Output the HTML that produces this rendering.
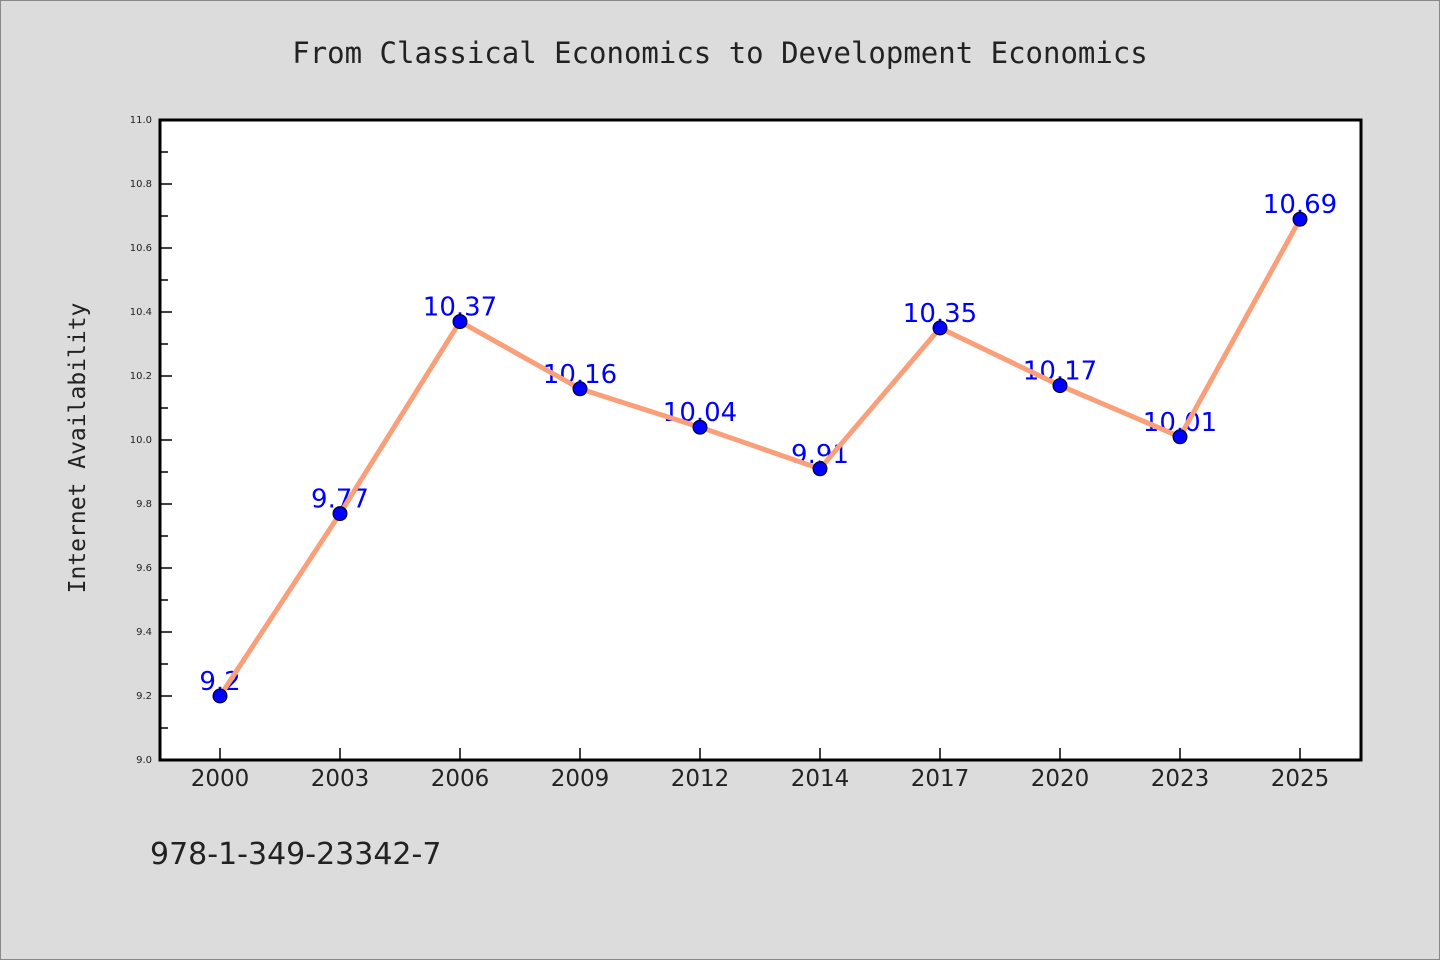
<!DOCTYPE html>
<html><head><meta charset="utf-8"><style>
body{margin:0;background:#dcdcdc;}
svg{display:block;}
</style></head><body>
<svg id="chart" width="1440" height="960" xmlns="http://www.w3.org/2000/svg">
<rect x="0.5" y="0.5" width="1439" height="959" fill="#dcdcdc" stroke="#888"/>
<text x="720" y="63" text-anchor="middle" font-family="DejaVu Sans Mono, Liberation Mono, monospace" font-size="29" fill="#222">From Classical Economics to Development Economics</text>
<rect x="160" y="120" width="1201" height="640" fill="#fff"/>
<g id="ticks"></g>
<g id="labels"></g>
<g id="series"></g>
<rect x="160" y="120" width="1201" height="640" fill="none" stroke="#000" stroke-width="3"/>
<text transform="translate(85,448) rotate(-90)" text-anchor="middle" font-family="DejaVu Sans Mono, Liberation Mono, monospace" font-size="23" fill="#222">Internet Availability</text>
<text x="150" y="864" font-family="DejaVu Sans, Liberation Sans, sans-serif" font-size="30" fill="#222">978-1-349-23342-7</text>
</svg>
<script>
const categories = ["2000","2003","2006","2009","2012","2014","2017","2020","2023","2025"];
const values = [9.2, 9.77, 10.37, 10.16, 10.04, 9.91, 10.35, 10.17, 10.01, 10.69];
const valueLabels = ["9.2","9.77","10.37","10.16","10.04","9.91","10.35","10.17","10.01","10.69"];
const yTicks = ["9.0","9.2","9.4","9.6","9.8","10.0","10.2","10.4","10.6","10.8","11.0"];
const NS="http://www.w3.org/2000/svg";
const L=160,R=1361,T=120,B=760,yMin=9,yMax=11;
const xs=i=>220+i*(1300-220)/(categories.length-1);
const ys=v=>B-(v-yMin)/(yMax-yMin)*(B-T);
function mk(tag,attrs,parent){const e=document.createElementNS(NS,tag);for(const k in attrs)e.setAttribute(k,attrs[k]);parent.appendChild(e);return e;}
const tg=document.getElementById('ticks'),lg=document.getElementById('labels'),sg=document.getElementById('series');
yTicks.forEach((t,i)=>{const v=parseFloat(t),y=ys(v);
 const ln=mk('line',{x1:L,x2:L+12,y1:y,y2:y,stroke:'#000','stroke-width':1.5},tg);
 
 
 const tx=mk('text',{x:L-8,y:y+3,'text-anchor':'end','font-family':'DejaVu Sans, sans-serif','font-size':10,fill:'#222'},tg);
 tx.textContent=t;
 
 
 if(i<yTicks.length-1){const ym=ys(v+0.1);
  const mn=mk('line',{x1:L,x2:L+8,y1:ym,y2:ym,stroke:'#000','stroke-width':1.5},tg);
  
  }
});
categories.forEach((c,i)=>{const x=xs(i);
 const ln=mk('line',{x1:x,x2:x,y1:B,y2:B-12,stroke:'#000','stroke-width':1.5},tg);
 
 
 const tx=mk('text',{x:x,y:B+26,'text-anchor':'middle','font-family':'DejaVu Sans, sans-serif','font-size':23,fill:'#222'},tg);
 tx.textContent=c;
 
 
 const vl=mk('text',{x:x,y:ys(values[i])-6,'text-anchor':'middle','font-family':'DejaVu Sans, sans-serif','font-size':26,fill:'#0000ff'},lg);
 vl.textContent=valueLabels[i];
 
 
});
const pts=values.map((v,i)=>xs(i)+','+ys(v)).join(' ');
const pl=mk('polyline',{points:pts,fill:'none',stroke:'#f9a07a','stroke-width':5,'stroke-linejoin':'round'},sg);


values.forEach((v,i)=>{const c=mk('circle',{cx:xs(i),cy:ys(v),r:7,fill:'#0000ff',stroke:'#000','stroke-width':1},sg);
 
 });
</script>
</body></html>
